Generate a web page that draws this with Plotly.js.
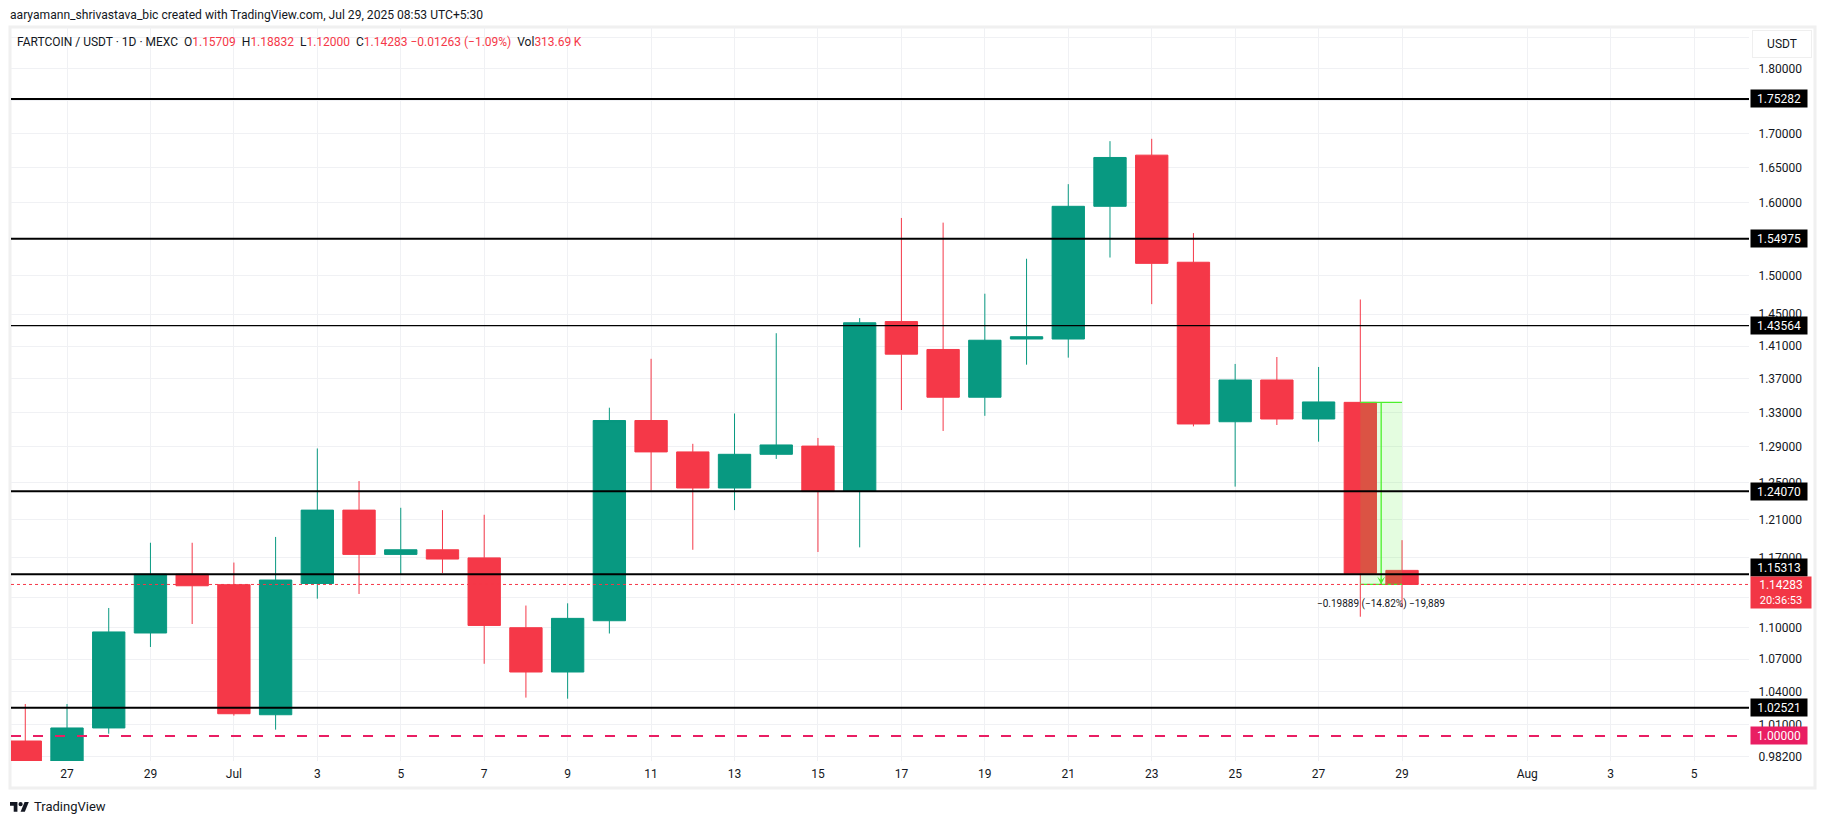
<!DOCTYPE html>
<html>
<head>
<meta charset="utf-8">
<script src="https://cdn.plot.ly/plotly-3.0.1.min.js"></script>
<style>html,body{margin:0;padding:0;background:#fff;overflow:hidden}#c{width:1825px;height:824px}</style>
</head>
<body>
<div id="c"></div>
<script>
const dates = ['2025-06-26','2025-06-27','2025-06-28','2025-06-29','2025-06-30','2025-07-01','2025-07-02','2025-07-03','2025-07-04','2025-07-05','2025-07-06','2025-07-07','2025-07-08','2025-07-09','2025-07-10','2025-07-11','2025-07-12','2025-07-13','2025-07-14','2025-07-15','2025-07-16','2025-07-17','2025-07-18','2025-07-19','2025-07-20','2025-07-21','2025-07-22','2025-07-23','2025-07-24','2025-07-25','2025-07-26','2025-07-27','2025-07-28','2025-07-29'];
const opens = [0.9956,0.965,1.0071,1.0950,1.1532,1.1426,1.0189,1.1438,1.2202,1.1735,1.1783,1.1699,1.1001,1.0580,1.1069,1.3204,1.2844,1.2442,1.2817,1.2910,1.2407,1.4407,1.4057,1.3478,1.4187,1.4187,1.5947,1.6682,1.5180,1.3190,1.3684,1.3222,1.34172,1.15709];
const highs = [1.0286,1.0286,1.1194,1.1856,1.1856,1.1651,1.1917,1.2883,1.2518,1.2227,1.2202,1.2152,1.1218,1.1240,1.3354,1.3942,1.2936,1.3286,1.4260,1.3003,1.4451,1.5784,1.5719,1.4765,1.5227,1.6261,1.6889,1.6924,1.5575,1.3879,1.3964,1.3842,1.4690,1.18832];
const lows = [0.96,0.96,1.0020,1.0816,1.1037,1.0181,1.0056,1.1286,1.1333,1.1532,1.1544,1.0657,1.0344,1.0334,1.0945,1.2416,1.1783,1.2202,1.2765,1.1760,1.1808,1.3327,1.3083,1.3259,1.3870,1.3956,1.5243,1.4630,1.3136,1.2457,1.3152,1.2960,1.1108,1.12000];
const closes = [0.965,1.0071,1.0960,1.1532,1.1415,1.0198,1.1473,1.2202,1.1735,1.1783,1.1687,1.1023,1.0580,1.1092,1.3204,1.2844,1.2442,1.2817,1.2923,1.2403,1.4392,1.3999,1.3478,1.4172,1.4216,1.5947,1.6648,1.5165,1.3164,1.3684,1.3222,1.3422,1.1541,1.14283];

const priceTicks = [1.85,1.80,1.75,1.70,1.65,1.60,1.55,1.50,1.45,1.41,1.37,1.33,1.29,1.25,1.21,1.17,1.13,1.10,1.07,1.04,1.01,0.982];
const priceTickText = ['','1.80000','','1.70000','1.65000','1.60000','','1.50000','1.45000','1.41000','1.37000','1.33000','1.29000','1.25000','1.21000','1.17000','','1.10000','1.07000','1.04000','1.01000','0.98200'];
const dateTicks = ['2025-06-27','2025-06-29','2025-07-01','2025-07-03','2025-07-05','2025-07-07','2025-07-09','2025-07-11','2025-07-13','2025-07-15','2025-07-17','2025-07-19','2025-07-21','2025-07-23','2025-07-25','2025-07-27','2025-07-29','2025-08-01','2025-08-03','2025-08-05'];
const dateTickText = ['27','29','Jul','3','5','7','9','11','13','15','17','19','21','23','25','27','29','Aug','3','5'];
const levels = [1.75282,1.54975,1.43564,1.24070,1.15313,1.02521];
const levelWidths = [2,2,1.3,2,2,2];
const levelText = ['1.75282','1.54975','1.43564','1.24070','1.15313','1.02521'];
const lastPrice = 1.14283, psychLevel = 1.0;
const measureDates = ['2025-07-28','2025-07-29'];
const measureMid = '2025-07-28 12:00';
const measureTop = 1.34172;
const xRange = ['2025-06-25 15:47','2025-08-06 07:36'];
const yRange = [0.97821,1.8676];

const W=1825,H=824,L=11,R=1749,T=27,B=761;
const px=x=>(x-L)/(R-L), py=y=>(B-y)/(B-T);
const GREEN='#089981',RED='#F53848',INK='#131722',FONT='Roboto, Arial, sans-serif',MEAS='#4CF02C';

const line=(x,y,color,width,dash)=>({type:'scatter',mode:'lines',x,y,line:{color,width,dash:dash||'solid'},hoverinfo:'skip',showlegend:false});
const traces=[
 {type:'candlestick',x:dates,open:opens,high:highs,low:lows,close:closes,whiskerwidth:0,
  increasing:{line:{color:GREEN,width:1},fillcolor:GREEN},
  decreasing:{line:{color:RED,width:1},fillcolor:RED},hoverinfo:'skip',showlegend:false},
 {type:'scatter',mode:'lines',x:[measureDates[0],measureDates[1],measureDates[1],measureDates[0],measureDates[0]],
  y:[measureTop,measureTop,lastPrice,lastPrice,measureTop],fill:'toself',fillcolor:'rgba(76,240,44,0.15)',line:{width:0},hoverinfo:'skip',showlegend:false},
 line(measureDates,[measureTop,measureTop],MEAS,1.3),
 line(measureDates,[lastPrice,lastPrice],MEAS,1.3),
 line([measureMid,measureMid],[measureTop,lastPrice],MEAS,1.3),
 line(xRange,[lastPrice,lastPrice],RED,1,'dot'),
 line(xRange,[psychLevel,psychLevel],'#E91E63',2,'10px,12px'),
];
levels.forEach((v,i)=>traces.push(line(xRange,[v,v],'#000',levelWidths[i])));

const lg=Math.log10;
const box=(txt,val,bg,w,h,extra)=>Object.assign({xref:'paper',yref:'y',x:px(1750),y:lg(val),xanchor:'left',yanchor:'middle',text:txt,showarrow:false,
  bgcolor:bg,width:w,height:h,borderpad:0,align:'center',font:{family:FONT,size:12,color:'#fff'}},extra||{});
const num=s=>`<span style="color:${RED}">${s}</span>`;
const annotations=[
 {xref:'paper',yref:'paper',x:px(9),y:py(15),xanchor:'left',yanchor:'middle',showarrow:false,borderpad:0,
  text:'aaryamann_shrivastava_bic created with TradingView.com, Jul 29, 2025 08:53 UTC+5:30',font:{family:FONT,size:12.1,color:INK}},
 {xref:'paper',yref:'paper',x:px(16),y:py(42),xanchor:'left',yanchor:'middle',showarrow:false,borderpad:0,
  text:'FARTCOIN / USDT · 1D · MEXC\u00a0\u00a0O'+num('1.15709')+'\u00a0\u00a0H'+num('1.18832')+'\u00a0\u00a0L'+num('1.12000')+'\u00a0\u00a0C'+num('1.14283')+'\u00a0'+num('−0.01263 (−1.09%)')+'\u00a0\u00a0Vol'+num('313.69\u2009K'),
  font:{family:FONT,size:12,color:INK}},
 {xref:'paper',yref:'paper',x:px(1782),y:py(44),xanchor:'center',yanchor:'middle',showarrow:false,text:'USDT',width:58,height:26,borderpad:0,
  bgcolor:'#fff',bordercolor:'#EFEFEF',borderwidth:1,font:{family:FONT,size:12,color:INK}},
 {xref:'paper',yref:'paper',x:px(33),y:py(806),xanchor:'left',yanchor:'middle',showarrow:false,borderpad:0,text:'TradingView',font:{family:FONT,size:13,color:INK}},
 {xref:'x',yref:'y',x:measureMid,y:lg(lastPrice),ax:0,ay:-16,text:' ',showarrow:true,arrowhead:3,arrowsize:1.2,arrowwidth:1.1,arrowcolor:MEAS,standoff:0},
 {xref:'x',yref:'y',x:measureMid,y:lg(lastPrice),yshift:-20,xanchor:'center',yanchor:'middle',showarrow:false,text:'−0.19889 (−14.82%) −19,889',font:{family:FONT,size:10,color:INK}},
];
levels.forEach((v,i)=>annotations.push(box(levelText[i],v,'#000',56,17, v===1.15313?{yshift:7}:{})));
annotations.push(box('1.00000',psychLevel,'#E91E63',56,17));
annotations.push(box('1.14283<br><span style="font-size:11px">20:36:53</span>',lastPrice,'#F23645',60,31,{yanchor:'top',yshift:8}));

const sx=.53, ox=10, oy=800;
const lx=u=>px(ox+u*sx).toFixed(6), ly=u=>py(oy+u*sx).toFixed(6);
const poly=pts=>'M'+pts.map(p=>lx(p[0])+','+ly(p[1])).join(' L')+' Z';
const paperShape=(path)=>({type:'path',xref:'paper',yref:'paper',path,fillcolor:INK,line:{width:0}});
const shapes=[
 {type:'rect',xref:'paper',yref:'paper',x0:px(10),x1:px(1815),y0:py(27),y1:py(788),line:{color:'#F0F0F0',width:3},fillcolor:'rgba(0,0,0,0)',layer:'below'},
 paperShape(poly([[0,4],[14,4],[14,22],[7,22],[7,11],[0,11]])),
 paperShape(poly([[27.5,4],[35.5,4],[28,22],[20,22]])),
 {type:'circle',xref:'paper',yref:'paper',x0:lx(16),x1:lx(24),y0:ly(4),y1:ly(12),fillcolor:INK,line:{width:0}},
];

const layout={
 width:W,height:H,margin:{l:L,r:W-R,t:T,b:H-B,pad:0},paper_bgcolor:'#fff',plot_bgcolor:'#fff',
 showlegend:false,hovermode:false,boxmode:'overlay',boxgap:0.225,boxgroupgap:0,
 xaxis:{type:'date',range:xRange,rangeslider:{visible:false},tickmode:'array',tickvals:dateTicks,ticktext:dateTickText,
  showgrid:true,gridcolor:'#F0F1F4',gridwidth:1,zeroline:false,showline:false,ticks:'outside',ticklen:2,tickcolor:'rgba(0,0,0,0)',
  tickangle:0,tickfont:{family:FONT,size:12,color:INK},fixedrange:true},
 yaxis:{type:'log',side:'right',range:[lg(yRange[0]),lg(yRange[1])],tickmode:'array',tickvals:priceTicks,ticktext:priceTickText,
  showgrid:true,gridcolor:'#F0F1F4',gridwidth:1,zeroline:false,showline:false,ticks:'outside',ticklen:6,tickcolor:'rgba(0,0,0,0)',
  tickfont:{family:FONT,size:12,color:INK},fixedrange:true},
 annotations,shapes
};
Plotly.newPlot('c',traces,layout,{displayModeBar:false,staticPlot:true});
</script>
</body>
</html>
